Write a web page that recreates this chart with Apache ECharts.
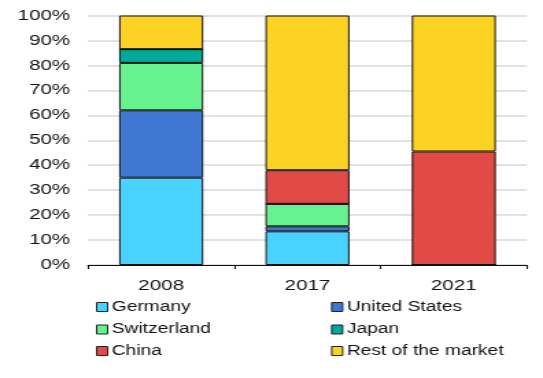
<!DOCTYPE html>
<html><head><meta charset="utf-8">
<script src="https://cdn.jsdelivr.net/npm/echarts@6/dist/echarts.min.js"></script>
<style>
html,body{margin:0;padding:0;background:#fff;overflow:hidden}
#c{width:396px;height:378px;transform:scaleX(1.3712);transform-origin:0 0}
</style>
</head><body><div id="c"></div>
<script>
const categories = ['2008', '2017', '2021'];
const germany = [35, 13.5, 0];
const unitedStates = [27, 2, 0];
const switzerland = [19, 9, 0];
const japan = [5.5, 0, 0];
const china = [0, 13.5, 45.5];
const rest = [13.5, 62, 54.5];
const yTicks = [0, 10, 20, 30, 40, 50, 60, 70, 80, 90, 100];

const names = ['Germany', 'United States', 'Switzerland', 'Japan', 'China', 'Rest of the market'];
const values = [germany, unitedStates, switzerland, japan, china, rest];
const colors = ['#48d2ff', '#3e78d2', '#66f28f', '#00a99a', '#e24a48', '#fdd323'];
const font = 'Liberation Sans, Arial, sans-serif';

const series = names.map((n, i) => ({
  name: n, type: 'bar', stack: 'all', barWidth: 61.3,
  data: values[i],
  itemStyle: { color: colors[i], borderColor: '#111', borderWidth: 1 },
  emphasis: { disabled: true }
}));

const colX = [70, 241.4];
const rowY = [300, 322.5, 344];
const legends = names.map((n, i) => ({
  data: [n], left: colX[i % 2], top: rowY[Math.floor(i / 2)],
  itemWidth: 8, itemHeight: 9, itemGap: 3, padding: 0,
  icon: 'rect',
  itemStyle: { borderColor: '#222', borderWidth: 1 },
  textStyle: { fontFamily: font, fontSize: 14, lineHeight: 14, color: '#111', padding: [0, 0, 0, -2] }
}));

const chart = echarts.init(document.getElementById('c'));
chart.setOption({
  animation: false,
  grid: { left: 64.2, right: 11.7, top: 15.5, bottom: 113, containLabel: false },
  legend: legends,
  xAxis: {
    type: 'category', data: categories,
    axisLine: { lineStyle: { color: '#111', width: 1 } },
    axisTick: { show: true, length: 4, lineStyle: { color: '#111' } },
    axisLabel: { fontFamily: font, fontSize: 15, color: '#111', margin: 13 }
  },
  yAxis: {
    type: 'value', min: 0, max: 100, interval: 10,
    axisLine: { show: false }, axisTick: { show: false },
    splitLine: { lineStyle: { color: '#d9d9d9', width: 1.5 } },
    axisLabel: { fontFamily: font, fontSize: 15, color: '#111', margin: 13,
      formatter: v => yTicks.includes(v) ? v + '%' : '' }
  },
  series: series
});
</script></body></html>
